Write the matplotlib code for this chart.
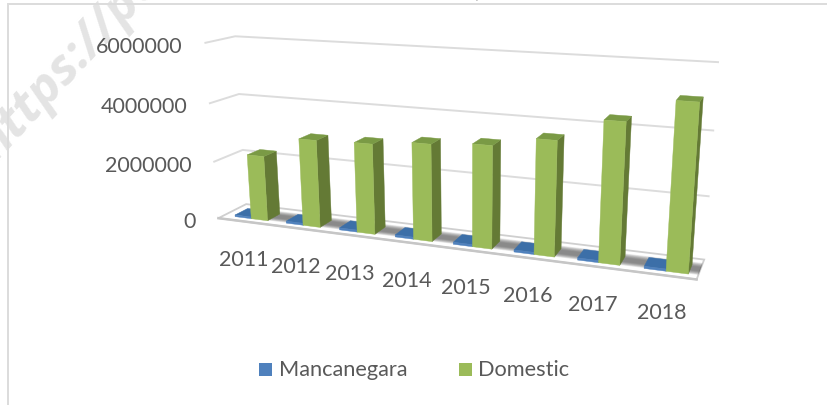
import numpy as np
import matplotlib
matplotlib.use("Agg")
import matplotlib.pyplot as plt
from matplotlib.patches import Polygon, Rectangle

years = ["2011", "2012", "2013", "2014", "2015", "2016", "2017", "2018"]
mancanegara = [60000, 70000, 70000, 70000, 70000, 70000, 70000, 70000]
domestic = [2250000, 2970000, 3020000, 3190000, 3320000, 3650000, 4370000, 5080000]
ticks = [0, 2000000, 4000000, 6000000]
series_names = ["Mancanegara", "Domestic"]

FONT = "Lato"
TXT = "#595959"
GRID = "#dcdcdc"
W, H = 827, 406

# Perspective camera fitted from reference landmarks: (category pos, depth, value/6e6) -> pixel
D0, D1 = 0.2, 0.66
B0, B1 = 0.54, 0.86
land = [
    (0, 0, 0, 218, 219), (8, 0, 0, 697, 281), (0, 1, 0, 247, 205), (8, 1, 0, 704, 261),
    (0, 0, 1/3, 214, 163), (0, 1, 1/3, 242, 151), (8, 1, 1/3, 709, 197),
    (0, 0, 2/3, 210, 104), (0, 1, 2/3, 238, 95), (8, 1, 2/3, 713, 132),
    (0, 0, 1, 205.5, 44), (0, 1, 1, 236, 37), (8, 1, 1, 718, 63),
]
foot_x = [252, 303, 357, 413, 473, 534, 598, 666]
foot_y = [219.5, 226.5, 233, 241, 248, 255, 263, 271.5]
for i, (fx, fy) in enumerate(zip(foot_x, foot_y)):
    land.append((i + B0, D0, 0, fx, fy))

A = []
for t, d, h, x, y in land:
    p = [t / 8, d, h, 1]
    A.append(p + [0, 0, 0, 0] + [-x / 800 * c for c in p])
    A.append([0, 0, 0, 0] + p + [-y / 800 * c for c in p])
M = np.linalg.svd(np.array(A))[2][-1].reshape(3, 4)


def proj(t, d, v):
    q = M @ np.array([t / 8, d, v / 6000000, 1.0])
    return (q[0] / q[2] * 800, q[1] / q[2] * 800)


fig = plt.figure(figsize=(W / 100, H / 100), dpi=100)
ax = fig.add_axes([0, 0, 1, 1])
ax.set_xlim(0, W)
ax.set_ylim(H, 0)
ax.axis("off")

# watermark and clipped caption above the chart
ax.text(-5, 163, "https://pa", rotation=47, rotation_mode="anchor", ha="left", va="baseline",
        fontsize=37, fontweight="bold", fontstyle="italic", family="Open Sans", color="#e4e4e4", zorder=0)
for s, x in zip(["g", "p", "y", ","], [307, 409, 466, 476]):
    ax.text(x, -2.5, s, fontsize=14, fontstyle="italic", family=FONT, color="black", ha="left", va="baseline", clip_on=False, zorder=1)

# chart frame
ax.plot([8, 8, W], [H, 5, 5], color=GRID, lw=1.4, zorder=1, solid_joinstyle="miter")

# gridlines
for v in ticks[1:]:
    pts = [proj(0, 0, v), proj(0, 1, v), proj(8, 1, v)]
    ax.plot(*zip(*pts), color=GRID, lw=1.4, zorder=2)

# floor slab
z = 3
corners = [proj(0, 0, 0), proj(8, 0, 0), proj(8, 1, 0), proj(0, 1, 0)]
ax.add_patch(Polygon(corners, closed=True, fc="white", ec="#cfcfcf", lw=1.3, zorder=z))
ax.plot(*zip(proj(0, 0, 0), proj(8, 0, 0)), color="#c6c6c6", lw=1.8, zorder=z)
for k in range(8):
    a = 0.22 + k * 0.025
    b = 0.82 - k * 0.03
    poly = [proj(0.4, a, 0), proj(8, a, 0), proj(8, b, 0), proj(0.4, b, 0)]
    ax.add_patch(Polygon(poly, closed=True, fc="#555555", ec="none", alpha=0.13, zorder=z))

# bars
BLUE, BLUE_TOP = "#4f81bd", "#3c6fa8"
GREEN, GREEN_TOP, GREEN_SIDE = "#9bbb59", "#7a9a45", "#647a35"


def bar(t0, t1, v, front, top, side, z):
    p = lambda t, d, h: proj(t, d, h)
    ax.add_patch(Polygon([p(t1, D0, 0), p(t1, D1, 0), p(t1, D1, v), p(t1, D0, v)], fc=side, ec=side, lw=0.3, zorder=z))
    ax.add_patch(Polygon([p(t0, D0, v), p(t1, D0, v), p(t1, D1, v), p(t0, D1, v)], fc=top, ec=top, lw=0.3, zorder=z))
    ax.add_patch(Polygon([p(t0, D0, 0), p(t1, D0, 0), p(t1, D0, v), p(t0, D0, v)], fc=front, ec=front, lw=0.3, zorder=z))


for i, (m, g) in enumerate(zip(mancanegara, domestic)):
    bar(i + B0 - (B1 - B0), i + B0, m, BLUE, BLUE_TOP, BLUE_TOP, 4 + i * 0.01)
    bar(i + B0, i + B1, g, GREEN, GREEN_TOP, GREEN_SIDE, 4.005 + i * 0.01)

# value axis labels
for v in ticks:
    x, y = proj(0, 0, v)
    ax.text(x - 22.5, y + 3, f"{v}", ha="right", va="center", fontsize=15.5, family=FONT, color=TXT, zorder=6)

# category labels
for i, yr in enumerate(years):
    x, y = proj(i + 0.5, 0, 0)
    ax.text(x, y + 37.5, yr, ha="center", va="center", fontsize=15.5, family=FONT, color=TXT, zorder=6)

# legend
for x, name, col, tx in [(259, series_names[0], BLUE, 279), (459, series_names[1], GREEN, 478)]:
    ax.add_patch(Rectangle((x, 364), 13, 13, fc=col, ec="none", zorder=6))
    ax.text(tx, 370, name, ha="left", va="center", fontsize=15.7, family=FONT, color=TXT, zorder=6)

fig.savefig("out.png", dpi=100)
